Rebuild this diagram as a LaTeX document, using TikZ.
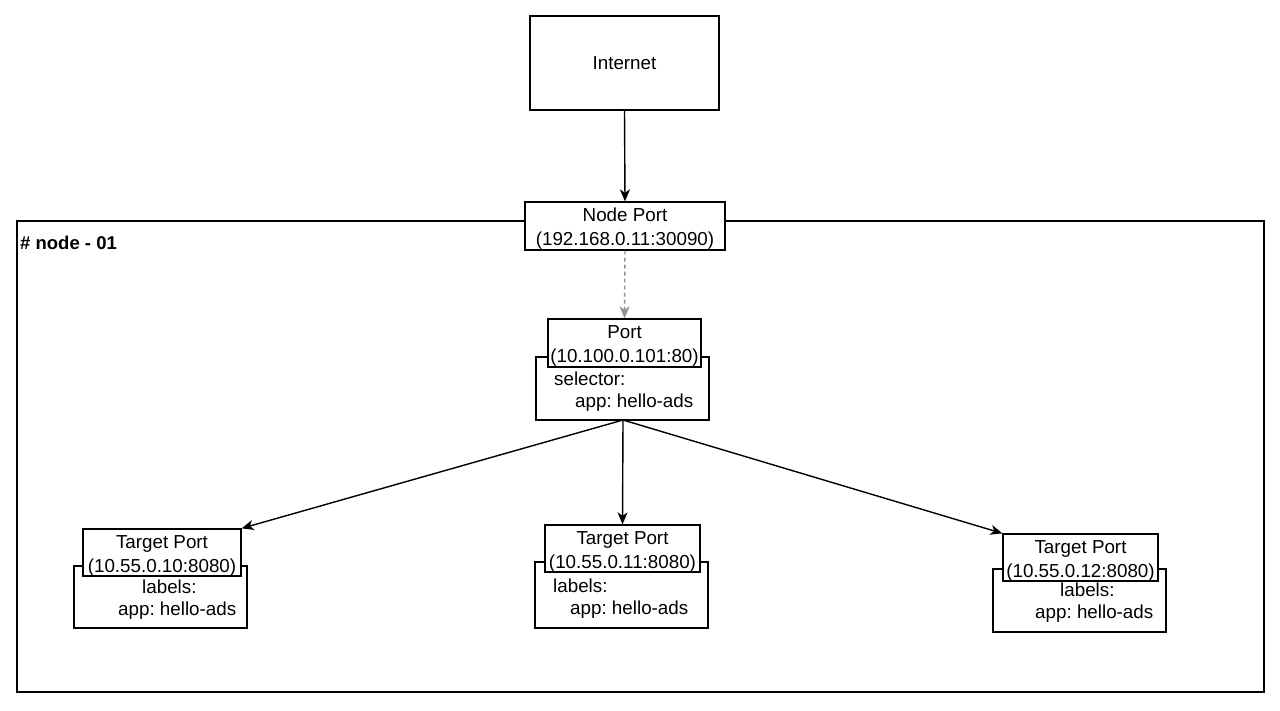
\documentclass[tikz,border=0pt]{standalone}
\usepackage{fontspec}
\setmainfont{Liberation Sans}
\usetikzlibrary{arrows.meta}
\frenchspacing
\newcommand{\twoline}[2]{\raisebox{-7.5pt}[0pt][0pt]{\begin{tabular}{@{}c@{}}#1\\#2\end{tabular}}}
\begin{document}
\begin{tikzpicture}[x=1pt,y=-1pt,
  box/.style={draw=black,line width=1.3pt,fill=white,inner sep=0pt,align=center,
    font=\fontsize{18.8}{24}\selectfont},
  txt/.style={inner sep=0pt,anchor=west,font=\fontsize{18.8}{24}\selectfont},
  arr/.style={-{Stealth[length=12pt,width=10pt,inset=3.5pt]},line width=1.4pt},
  darr/.style={-{Stealth[length=12pt,width=10pt,inset=3.5pt]},line width=1.4pt,draw=gray!85,dash pattern=on 4pt off 3pt}]
\useasboundingbox[fill=white] (0,0) rectangle (1280,710);
% container
\node[draw=black,line width=1.3pt,minimum width=1247pt,minimum height=471pt,inner sep=0pt] (cont) at (640.5,456.5) {};
\node[inner sep=0pt,anchor=west,font=\fontsize{18.5}{22}\bfseries\selectfont] (contlbl) at (20,243) {\# node - 01};
% internet
\node[box,minimum width=189pt,minimum height=94pt] (inet) at (624.5,63) {Internet};
% node port
\node[box,minimum width=200pt,minimum height=48pt] (np) at (625,226) {\twoline{Node Port}{(192.168.0.11:30090)}};
% service
\node[box,minimum width=173pt,minimum height=63pt] (sel) at (622.5,388.5) {};
\node[box,minimum width=153pt,minimum height=48pt] (port) at (624.5,343) {\twoline{Port}{(10.100.0.101:80)}};
\node[txt] (selA) at (554,379) {selector:};
\node[txt] (selB) at (575,403) {app: hello-ads};
% target 1
\node[box,minimum width=173pt,minimum height=62pt] (l1) at (160.5,597) {};
\node[box,minimum width=158pt,minimum height=47pt] (t1) at (162,552.5) {\twoline{Target Port}{(10.55.0.10:8080)}};
\node[txt] (l1a) at (142,587) {labels:};
\node[txt] (l1b) at (118,611) {app: hello-ads};
% target 2
\node[box,minimum width=173pt,minimum height=66pt] (l2) at (621.5,595) {};
\node[box,minimum width=155pt,minimum height=47pt] (t2) at (622.5,548.5) {\twoline{Target Port}{(10.55.0.11:8080)}};
\node[txt] (l2a) at (553,586) {labels:};
\node[txt] (l2b) at (570,610) {app: hello-ads};
% target 3
\node[box,minimum width=173pt,minimum height=63pt] (l3) at (1079.5,600.5) {};
\node[box,minimum width=155pt,minimum height=47pt] (t3) at (1080.5,557.5) {\twoline{Target Port}{(10.55.0.12:8080)}};
\node[txt] (l3a) at (1060,590) {labels:};
\node[txt] (l3b) at (1035,614) {app: hello-ads};
% connectors
\draw[arr] (inet.south) -- (np.north);
\draw[darr] (np.south) -- (port.north);
\coordinate (selb) at (623,420);
\draw[arr] (selb) -- (t1.north east);
\draw[arr] (selb) -- (t2.north);
\draw[arr] (selb) -- (t3.north west);
\end{tikzpicture}
\end{document}
